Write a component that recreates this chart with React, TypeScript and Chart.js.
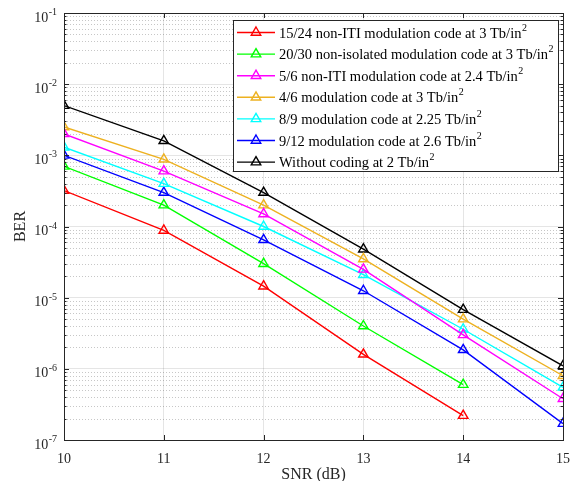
import React, { useEffect, useRef } from "react";
import { Chart, registerables } from "chart.js";

Chart.register(...registerables);

const snr = [10, 11, 12, 13, 14, 15];
const yDecades = [1e-7, 1e-6, 1e-5, 1e-4, 1e-3, 1e-2, 1e-1];
const yExponents = ["-7", "-6", "-5", "-4", "-3", "-2", "-1"];

const red = [3.2e-4, 8.8e-5, 1.45e-5, 1.6e-6, 2.2e-7];
const green = [7e-4, 2e-4, 3e-5, 4e-6, 6e-7];
const magenta = [2e-3, 6e-4, 1.5e-4, 2.5e-5, 3e-6, 3.8e-7];
const orange = [2.5e-3, 8.8e-4, 2e-4, 3.5e-5, 5e-6, 8e-7];
const cyan = [1.3e-3, 4e-4, 1e-4, 2.1e-5, 3.6e-6, 5.5e-7];
const blue = [1e-3, 3e-4, 6.5e-5, 1.25e-5, 1.85e-6, 1.7e-7];
const black = [5e-3, 1.6e-3, 3e-4, 4.8e-5, 6.8e-6, 1.1e-6];

const labels = [
  "15/24 non-ITI modulation code at 3 Tb/in",
  "20/30 non-isolated modulation code at 3 Tb/in",
  "5/6 non-ITI modulation code at 2.4 Tb/in",
  "4/6 modulation code at 3 Tb/in",
  "8/9 modulation code at 2.25 Tb/in",
  "9/12 modulation code at 2.6 Tb/in",
  "Without coding at 2 Tb/in",
];
const seriesValues = [red, green, magenta, orange, cyan, blue, black];
const colors = ["#ff0000", "#00ff00", "#ff00ff", "#edb120", "#00ffff", "#0000ff", "#000000"];

const FONT = "'Liberation Serif', 'Times New Roman', serif";
const AX = "#262626";

export default function App() {
  const ref = useRef<HTMLCanvasElement | null>(null);
  useEffect(() => {
    const canvas = ref.current!;
    const datasets = seriesValues.map((vals, i) => ({
      label: labels[i],
      data: vals.map((v, j) => ({ x: snr[j], y: v })),
      borderColor: colors[i],
      backgroundColor: colors[i],
      borderWidth: 1.4,
      pointStyle: "triangle",
      pointRadius: 5.5,
      pointBorderWidth: 1.4,
      pointBackgroundColor: "rgba(0,0,0,0)",
      pointBorderColor: colors[i],
      tension: 0,
    }));

    const overlay = {
      id: "overlay",
      beforeDatasetsDraw(chart: any) {
        const { ctx, chartArea: a, scales } = chart;
        const y = scales.y;
        ctx.save();
        ctx.strokeStyle = "rgba(0,0,0,0.22)";
        ctx.lineWidth = 1;
        ctx.setLineDash([1, 2]);
        for (const d of yDecades.slice(0, -1)) {
          for (let m = 2; m <= 9; m++) {
            const py = Math.round(y.getPixelForValue(d * m)) + 0.5;
            ctx.beginPath();
            ctx.moveTo(a.left, py);
            ctx.lineTo(a.right, py);
            ctx.stroke();
          }
        }
        ctx.restore();
      },
      afterDraw(chart: any) {
        const { ctx, chartArea: a, scales } = chart;
        const x = scales.x;
        const y = scales.y;
        ctx.save();
        ctx.strokeStyle = AX;
        ctx.lineWidth = 1;
        ctx.setLineDash([]);
        ctx.beginPath();
        for (const v of snr) {
          const px = Math.round(x.getPixelForValue(v)) + 0.5;
          ctx.moveTo(px, a.bottom);
          ctx.lineTo(px, a.bottom - 5);
          ctx.moveTo(px, a.top);
          ctx.lineTo(px, a.top + 5);
        }
        for (const d of yDecades) {
          const py = Math.round(y.getPixelForValue(d)) + 0.5;
          ctx.moveTo(a.left, py);
          ctx.lineTo(a.left + 5, py);
          ctx.moveTo(a.right, py);
          ctx.lineTo(a.right - 5, py);
          if (d < 1e-1) {
            for (let m = 2; m <= 9; m++) {
              const pm = Math.round(y.getPixelForValue(d * m)) + 0.5;
              ctx.moveTo(a.left, pm);
              ctx.lineTo(a.left + 2.5, pm);
              ctx.moveTo(a.right, pm);
              ctx.lineTo(a.right - 2.5, pm);
            }
          }
        }
        ctx.stroke();
        ctx.strokeRect(Math.round(a.left) + 0.5, Math.round(a.top) + 0.5, Math.round(a.right - a.left), Math.round(a.bottom - a.top));
        ctx.fillStyle = AX;
        yDecades.forEach((d, i) => {
          const py = y.getPixelForValue(d);
          ctx.font = `10px ${FONT}`;
          ctx.textAlign = "right";
          ctx.textBaseline = "alphabetic";
          const ew = ctx.measureText(yExponents[i]).width;
          const ex = a.left - 7;
          ctx.fillText(yExponents[i], ex, py + 2);
          ctx.font = `14px ${FONT}`;
          ctx.fillText("10", ex - ew - 0.5, py + 8.5);
        });
        const lx = 233, ly = 20, lw = 325, lh = 151;
        ctx.fillStyle = "#ffffff";
        ctx.fillRect(lx, ly, lw, lh);
        ctx.strokeStyle = AX;
        ctx.strokeRect(lx + 0.5, ly + 0.5, lw, lh);
        labels.forEach((lab, i) => {
          const cy = 32.5 + i * 21.6;
          ctx.strokeStyle = colors[i];
          ctx.lineWidth = 1.4;
          ctx.beginPath();
          ctx.moveTo(237, cy);
          ctx.lineTo(275, cy);
          ctx.stroke();
          const r = 5.5;
          ctx.beginPath();
          ctx.moveTo(256, cy - r);
          ctx.lineTo(256 + r * 0.866, cy + r * 0.5);
          ctx.lineTo(256 - r * 0.866, cy + r * 0.5);
          ctx.closePath();
          ctx.stroke();
          ctx.fillStyle = "#000";
          ctx.font = `14.5px ${FONT}`;
          ctx.textAlign = "left";
          ctx.textBaseline = "alphabetic";
          ctx.fillText(lab, 279, cy + 5);
          const w = ctx.measureText(lab).width;
          ctx.font = `10px ${FONT}`;
          ctx.fillText("2", 279 + w + 0.5, cy - 2);
        });
        ctx.restore();
      },
    };

    const chart = new Chart(canvas, {
      type: "line",
      data: { datasets },
      options: {
        animation: false,
        responsive: false,
        maintainAspectRatio: false,
        layout: { padding: { top: 13, right: 11, left: 0, bottom: 0 } },
        plugins: { legend: { display: false }, tooltip: { enabled: false } },
        scales: {
          x: {
            type: "linear",
            min: 10,
            max: 15,
            border: { display: false },
            grid: { color: "rgba(0,0,0,0.1)", drawTicks: false },
            ticks: {
              stepSize: 1,
              color: AX,
              font: { family: FONT, size: 14 },
              padding: 11,
            },
            title: {
              display: true,
              text: "SNR (dB)",
              color: AX,
              font: { family: FONT, size: 16 },
              padding: { top: 0, bottom: -3 },
            },
            afterFit: (s: any) => {
              s.height = 41;
              s.paddingLeft = 0;
              s.paddingRight = 0;
            },
          },
          y: {
            type: "logarithmic",
            min: 1e-7,
            max: 1e-1,
            border: { display: false },
            grid: { color: "rgba(0,0,0,0.1)", drawTicks: false },
            ticks: { display: false },
            afterBuildTicks: (s: any) => {
              s.ticks = yDecades.map((v) => ({ value: v }));
            },
            title: {
              display: true,
              text: "BER",
              color: AX,
              font: { family: FONT, size: 16 },
              padding: { top: 11, bottom: 0 },
            },
            afterFit: (s: any) => {
              s.width = 64;
              s.paddingTop = 0;
              s.paddingBottom = 0;
            },
          },
        },
      },
      plugins: [overlay],
    });
    return () => chart.destroy();
  }, []);
  return (
    <div style={{ position: "fixed", left: 0, top: 0, width: 574, height: 481, background: "#fff" }}>
      <canvas ref={ref} width={574} height={481} style={{ display: "block" }} />
    </div>
  );
}
